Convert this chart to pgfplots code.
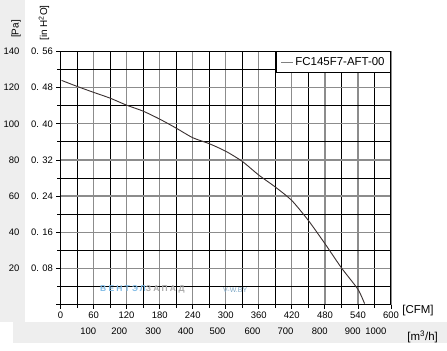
\documentclass[border=0pt]{standalone}
\usepackage{pgfplots}
\pgfplotsset{compat=1.18}
\usepackage{fontspec}
\setmainfont{Liberation Sans}
\definecolor{bggray}{HTML}{EEEEEE}
\definecolor{majgrid}{HTML}{8C8C8C}
\definecolor{curvecol}{HTML}{3A3030}
\definecolor{wmblue}{HTML}{7FBBE6}
\definecolor{wmgray}{HTML}{ABABAB}
\begin{document}
\begin{tikzpicture}
\fill[white] (0,0) rectangle (447bp,351bp);
\fill[bggray] (0bp,29bp) -- (0bp,351bp) -- (447bp,351bp) -- (447bp,8bp) -- (13bp,8bp) -- (13bp,29bp) -- cycle;
\fill[white] (25bp,29bp) rectangle (447bp,351bp);
\begin{axis}[
 at={(60.5bp,46.5bp)}, anchor=south west,
 scale only axis, width=330.5bp, height=253bp,
 xmin=0, xmax=600, ymin=0, ymax=140,
 xtick={0,60,...,600}, minor x tick num=1,
 ytick={0,20,...,140}, minor y tick num=1,
 yticklabels={,0. 08,0. 16,0. 24,0. 32,0. 40,0. 48,0. 56},
 xtick pos=bottom, ytick pos=left,
 grid=both,
 major grid style={majgrid, line width=1.3bp},
 minor grid style={black, line width=0.8bp},
 axis line style={black, line width=1bp},
 tick align=outside,
 major tick length=4bp, minor tick length=3bp,
 tick style={black, line width=0.8bp},
 ticklabel style={font=\fontsize{9.5}{10}\selectfont},
 xticklabel style={/pgf/number format/assume math mode=true},
 clip=false,
 legend style={at={(rel axis cs:1,1)}, anchor=north east, draw=black, line width=0.8bp, fill=white, font=\fontsize{11.5}{12}\selectfont, inner xsep=4bp, inner ysep=3.5bp, legend cell align=left},
 legend image code/.code={\draw[gray, line width=0.8bp] (0bp,0bp) -- (12bp,0bp);},
]
\addplot[curvecol, line width=0.9bp, smooth, tension=0.4] coordinates {
 (2,124) (30,120.7) (60,117.4) (90,114.2) (120,110.3) (150,107) (180,102.6)
 (210,97.6) (240,92.3) (270,89) (300,84.8) (330,79.2) (360,71.6) (390,65)
 (420,57.5) (450,46.5) (480,33.7) (510,20.3) (540,8.4) (552,0.5)
};
\addlegendentry{FC145F7-AFT-00}
% Pa tick labels
\node[anchor=east, font=\fontsize{9.5}{10}\selectfont] at ([xshift=-37.5bp]axis cs:0,20) {20};
\node[anchor=east, font=\fontsize{9.5}{10}\selectfont] at ([xshift=-37.5bp]axis cs:0,40) {40};
\node[anchor=east, font=\fontsize{9.5}{10}\selectfont] at ([xshift=-37.5bp]axis cs:0,60) {60};
\node[anchor=east, font=\fontsize{9.5}{10}\selectfont] at ([xshift=-37.5bp]axis cs:0,80) {80};
\node[anchor=east, font=\fontsize{9.5}{10}\selectfont] at ([xshift=-37.5bp]axis cs:0,100) {100};
\node[anchor=east, font=\fontsize{9.5}{10}\selectfont] at ([xshift=-37.5bp]axis cs:0,120) {120};
\node[anchor=east, font=\fontsize{9.5}{10}\selectfont] at ([xshift=-37.5bp]axis cs:0,140) {140};
% m3/h tick labels
\node[font=\fontsize{9.5}{10}\selectfont] at ([yshift=-26.5bp]axis cs:50.5,0) {100};
\node[font=\fontsize{9.5}{10}\selectfont] at ([yshift=-26.5bp]axis cs:106.6,0) {200};
\node[font=\fontsize{9.5}{10}\selectfont] at ([yshift=-26.5bp]axis cs:168.5,0) {300};
\node[font=\fontsize{9.5}{10}\selectfont] at ([yshift=-26.5bp]axis cs:227.5,0) {400};
\node[font=\fontsize{9.5}{10}\selectfont] at ([yshift=-26.5bp]axis cs:285,0) {500};
\node[font=\fontsize{9.5}{10}\selectfont] at ([yshift=-26.5bp]axis cs:348.6,0) {600};
\node[font=\fontsize{9.5}{10}\selectfont] at ([yshift=-26.5bp]axis cs:408.5,0) {700};
\node[font=\fontsize{9.5}{10}\selectfont] at ([yshift=-26.5bp]axis cs:470.6,0) {800};
\node[font=\fontsize{9.5}{10}\selectfont] at ([yshift=-26.5bp]axis cs:530.7,0) {900};
\node[font=\fontsize{9.5}{10}\selectfont] at ([yshift=-26.5bp]axis cs:572.4,0) {1000};
\end{axis}
% unit labels
\node[rotate=90, font=\fontsize{10}{11}\selectfont] at (16bp,322bp) {[Pa]};
\node[rotate=90, font=\fontsize{10}{11}\selectfont] at (44bp,328bp) {[in H\textsuperscript{2}O]};
\node[font=\fontsize{11.5}{12}\selectfont] at (418bp,40bp) {[CFM]};
\node[font=\fontsize{11.5}{12}\selectfont] at (422.7bp,14.3bp) {[m\textsuperscript{3}/h]};
% watermark
\node[anchor=west, font=\fontsize{8.5}{9}\selectfont\bfseries\addfontfeature{LetterSpace=26}, text=wmblue, inner sep=0pt] at (100bp,62bp) {ВЕНТЭЛ\textcolor{wmgray}{ЗАПАД}};
\node[anchor=west, font=\fontsize{7}{8}\selectfont, text=wmblue!70!gray, inner sep=0pt] at (223bp,61bp) {V-W.BY};
\useasboundingbox (0,0) rectangle (447bp,351bp);
\end{tikzpicture}
\end{document}
